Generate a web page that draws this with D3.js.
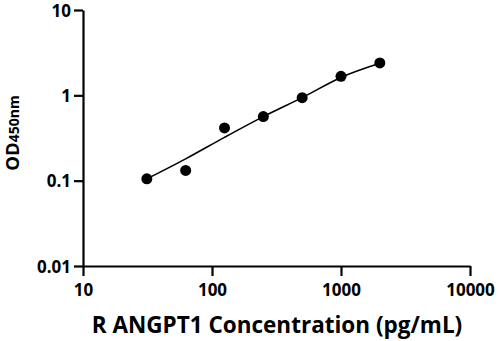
<!DOCTYPE html>
<html>
<head>
<meta charset="utf-8">
<script src="https://cdn.jsdelivr.net/npm/d3@7"></script>
<style>
  html, body { margin: 0; padding: 0; background: #fff; }
  svg { display: block; }
  text { font-family: "Open Sans", "DejaVu Sans", sans-serif; font-weight: 700; fill: #000; }
</style>
</head>
<body>
<svg id="chart" width="499" height="341"></svg>
<script>
// Data
const concentrations = [31.25, 62.5, 125, 250, 500, 1000, 2000];
const odValues = [0.105, 0.132, 0.415, 0.563, 0.94, 1.67, 2.40];
// Fitted curve
const curveX = [31.25, 62.5, 125, 250, 500, 1000, 2000];
const curveY = [0.105, 0.180, 0.322, 0.563, 0.94, 1.62, 2.37];
const xTicks = [10, 100, 1000, 10000];
const yTicks = [0.01, 0.1, 1, 10];
const xTitle = "R ANGPT1 Concentration (pg/mL)";

const svg = d3.select("#chart");
const x = d3.scaleLog().domain([10, 10000]).range([83, 470]);
const y = d3.scaleLog().domain([0.01, 10]).range([266, 10]);

const fmt = d => (d < 1 ? String(d) : d3.format("d")(d));

// X axis
const gx = svg.append("g").attr("transform", `translate(0,${y(0.01)})`)
  .call(d3.axisBottom(x).tickValues(xTicks).tickFormat(fmt).tickSize(10).tickSizeOuter(0).tickPadding(8));
// Y axis
const gy = svg.append("g").attr("transform", `translate(${x(10)},0)`)
  .call(d3.axisLeft(y).tickValues(yTicks).tickFormat(fmt).tickSize(9).tickSizeOuter(0).tickPadding(3));

[gx, gy].forEach(g => {
  g.select(".domain").attr("stroke", "#000").attr("stroke-width", 2.2);
  g.selectAll(".tick line").attr("stroke", "#000").attr("stroke-width", 2.2);
  g.selectAll(".tick text").style("font-size", "17px").style("font-family", "'Open Sans', sans-serif").style("font-weight", 700).attr("fill", "#000");
});
gy.selectAll(".tick text").attr("dy", "0.36em");

// Fitted curve
const line = d3.line()
  .x((d, i) => x(curveX[i]))
  .y(d => y(d))
  .curve(d3.curveMonotoneX);
svg.append("path")
  .datum(curveY)
  .attr("d", line)
  .attr("fill", "none")
  .attr("stroke", "#000")
  .attr("stroke-width", 1.6);

// Points
svg.append("g").selectAll("circle")
  .data(odValues)
  .join("circle")
  .attr("cx", (d, i) => x(concentrations[i]))
  .attr("cy", d => y(d))
  .attr("r", 5.5)
  .attr("fill", "#000");

// X title
svg.append("text")
  .attr("x", 277)
  .attr("y", 333)
  .attr("text-anchor", "middle")
  .style("font-size", "22.5px")
  .text(xTitle);

// Y title
const yt = svg.append("text")
  .attr("transform", `translate(19,133) rotate(-90)`)
  .attr("text-anchor", "middle");
yt.append("tspan").style("font-size", "18.5px").text("OD");
yt.append("tspan").style("font-size", "14px").text("450nm");
</script>
</body>
</html>
